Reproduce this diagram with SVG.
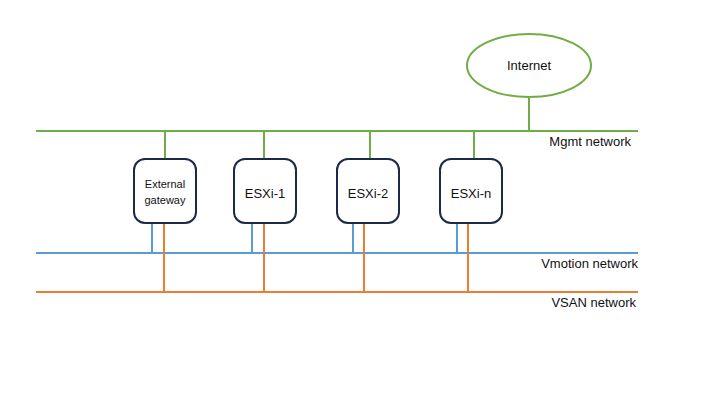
<svg xmlns="http://www.w3.org/2000/svg" width="720" height="405" viewBox="0 0 720 405">
<style>
.g{stroke:#70ad47;stroke-width:2;fill:none}
.b{stroke:#5b9bd5;stroke-width:2;fill:none}
.o{stroke:#ed7d31;stroke-width:2;fill:none}
.box{fill:#fff;stroke:#1b2a4a;stroke-width:2}
text{font-family:"Liberation Sans",Arial,sans-serif;fill:#111}
.lbl{font-size:13px}
.nd{font-size:13px;text-anchor:middle;dominant-baseline:central}
.sm{font-size:11px;text-anchor:middle;dominant-baseline:central}
</style>
<rect width="720" height="405" fill="#fff"/>
<g id="connectors">
<line class="g" x1="36" y1="131" x2="638" y2="131"/>
<line class="b" x1="36" y1="253" x2="638" y2="253"/>
<line class="o" x1="36" y1="292" x2="638" y2="292"/>
<line class="g" x1="529" y1="97" x2="529" y2="131"/>
<line class="g" x1="165" y1="131" x2="165" y2="159"/>
<line class="g" x1="264" y1="131" x2="264" y2="159"/>
<line class="g" x1="370" y1="131" x2="370" y2="159"/>
<line class="g" x1="474" y1="131" x2="474" y2="159"/>
<line class="b" x1="152" y1="223" x2="152" y2="253"/>
<line class="b" x1="252" y1="223" x2="252" y2="253"/>
<line class="b" x1="353" y1="223" x2="353" y2="253"/>
<line class="b" x1="457" y1="223" x2="457" y2="253"/>
<line class="o" x1="164" y1="223" x2="164" y2="292"/>
<line class="o" x1="264" y1="223" x2="264" y2="292"/>
<line class="o" x1="364" y1="223" x2="364" y2="292"/>
<line class="o" x1="468" y1="223" x2="468" y2="292"/>
</g>
<g id="internet">
<ellipse cx="529" cy="65.5" rx="62" ry="31.5" fill="#fff" stroke="#70ad47" stroke-width="2"/>
<text class="nd" x="529" y="65">Internet</text>
</g>
<g id="gateway">
<rect class="box" x="134" y="159" width="62" height="64" rx="11"/>
<text class="sm" x="165" y="184">External</text>
<text class="sm" x="165" y="200">gateway</text>
</g>
<g id="esxi1">
<rect class="box" x="234" y="159" width="62" height="64" rx="11"/>
<text class="nd" x="265" y="193">ESXi-1</text>
</g>
<g id="esxi2">
<rect class="box" x="337" y="159" width="62" height="64" rx="11"/>
<text class="nd" x="368" y="193">ESXi-2</text>
</g>
<g id="esxin">
<rect class="box" x="440" y="159" width="62" height="64" rx="11"/>
<text class="nd" x="471" y="193">ESXi-n</text>
</g>
<g id="labels">
<text class="lbl" x="631" y="146" text-anchor="end">Mgmt network</text>
<text class="lbl" x="638" y="268" text-anchor="end">Vmotion network</text>
<text class="lbl" x="636" y="307" text-anchor="end">VSAN network</text>
</g>
</svg>
